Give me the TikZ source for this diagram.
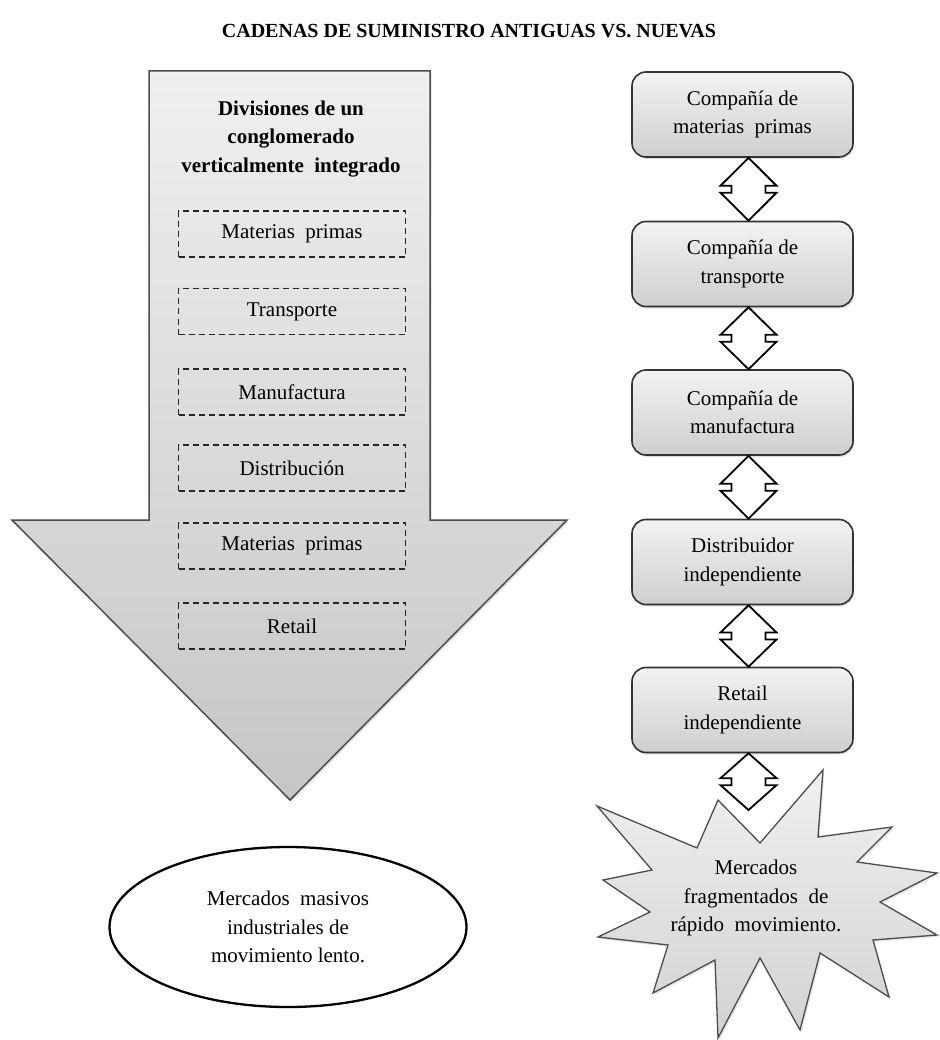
\documentclass[tikz,border=0pt]{standalone}
\usepackage{fontspec}
\setmainfont{Liberation Serif}
\usetikzlibrary{shadows,calc,shapes.geometric}
\newcommand{\updown}[2]{%
  \draw[dbl] let \p1=#1, \p2=#2, \n1={(\y1-\y2-7pt)/2} in
    (\x1+6pt,\y1) -- (\x1+34pt,\y1-\n1*1pt) -- (\x1+23pt,\y1-\n1*1pt)
    -- (\x1+23pt,\y2+\n1*1pt) -- (\x1+34pt,\y2+\n1*1pt) -- (\x1+6pt,\y2)
    -- (\x1-22pt,\y2+\n1*1pt) -- (\x1-11pt,\y2+\n1*1pt)
    -- (\x1-11pt,\y1-\n1*1pt) -- (\x1-22pt,\y1-\n1*1pt) -- cycle;}
\begin{document}
\begin{tikzpicture}[x=1pt,y=-1pt,
  txt/.style={font=\fontsize{21}{28.5}\selectfont, align=center, text=black},
  divbox/.style={draw=black!85, dash pattern=on 6pt off 4pt, line width=1.3pt,
    minimum width=227pt, minimum height=46pt, inner sep=0pt, txt},
  cobox/.style={draw=black!80, line width=1.6pt, rounded corners=14pt,
    top color=gray!10, bottom color=gray!38, minimum width=221pt,
    minimum height=85pt, inner sep=0pt, txt,
    drop shadow={opacity=0.25, shadow xshift=1pt, shadow yshift=-2pt}},
  dbl/.style={draw=black, line width=1.8pt, fill=white, line join=miter},
  bigarrow/.style={draw=black!70, line width=1.5pt, top color=gray!12,
    bottom color=gray!45,
    drop shadow={opacity=0.25, shadow xshift=1.5pt, shadow yshift=-2pt}},
  starshape/.style={draw=black!70, line width=1.3pt, top color=gray!12,
    bottom color=gray!35,
    drop shadow={opacity=0.2, shadow xshift=1.5pt, shadow yshift=-2pt}},
]
\useasboundingbox (0,0) rectangle (939,1040);

% title
\node[font=\fontsize{20}{24}\selectfont\bfseries] (title) at (469,31)
  {CADENAS DE SUMINISTRO ANTIGUAS VS. NUEVAS};

% left big arrow
\path[bigarrow] (149,71) -- (430,71) -- (430,520) -- (567,520) -- (290,800)
  -- (12,520) -- (149,520) -- cycle;
\node[txt, font=\fontsize{21}{28.5}\selectfont\bfseries] (divt) at (291,139)
  {Divisiones de un\\conglomerado\\verticalmente\ \ integrado};
\node[divbox] (d1) at (292,234) {Materias\ \ primas};
\node[divbox] (d2) at (292,311.5) {Transporte};
\node[divbox] (d3) at (292,392) {Manufactura};
\node[divbox] (d4) at (292,468) {Distribución};
\node[divbox] (d5) at (292,546) {Materias\ \ primas};
\node[divbox] (d6) at (292,626) {Retail};

% ellipse
\node[draw=black, line width=2.3pt, ellipse, minimum width=357pt,
  minimum height=160pt, inner sep=0pt, txt] (mm) at (288,927)
  {Mercados\ \ masivos\\industriales de\\movimiento lento.};

% right chain
\node[cobox] (c1) at (742.5,114.5) {Compañía de\\materias\ \ primas};
\node[cobox] (c2) at (742.5,264) {Compañía de\\transporte};
\node[cobox] (c3) at (742.5,412.5) {Compañía de\\manufactura};
\node[cobox] (c4) at (742.5,562) {Distribuidor\\independiente};
\node[cobox] (c5) at (742.5,710) {Retail\\independiente};

% star
\path[starshape] (597,806) -- (697,848) -- (718,800) -- (760,843) -- (823,770)
  -- (818,837) -- (892,827) -- (857,862) -- (937,873) -- (880,902)
  -- (937,935) -- (873,940) -- (889,997) -- (820,953) -- (800,1030)
  -- (760,958) -- (718,1038) -- (715,960) -- (653,993) -- (668,945)
  -- (598,937) -- (650,912) -- (603,880) -- (652,870) -- cycle;
\node[txt] (mf) at (756,898) {Mercados\\fragmentados\ \ de\\rápido\ \ movimiento.};
\coordinate (startop) at (742.5,810);

\updown{(c1.south)}{(c2.north)}
\updown{(c2.south)}{(c3.north)}
\updown{(c3.south)}{(c4.north)}
\updown{(c4.south)}{(c5.north)}
\updown{(c5.south)}{(startop)}
\end{tikzpicture}
\end{document}
